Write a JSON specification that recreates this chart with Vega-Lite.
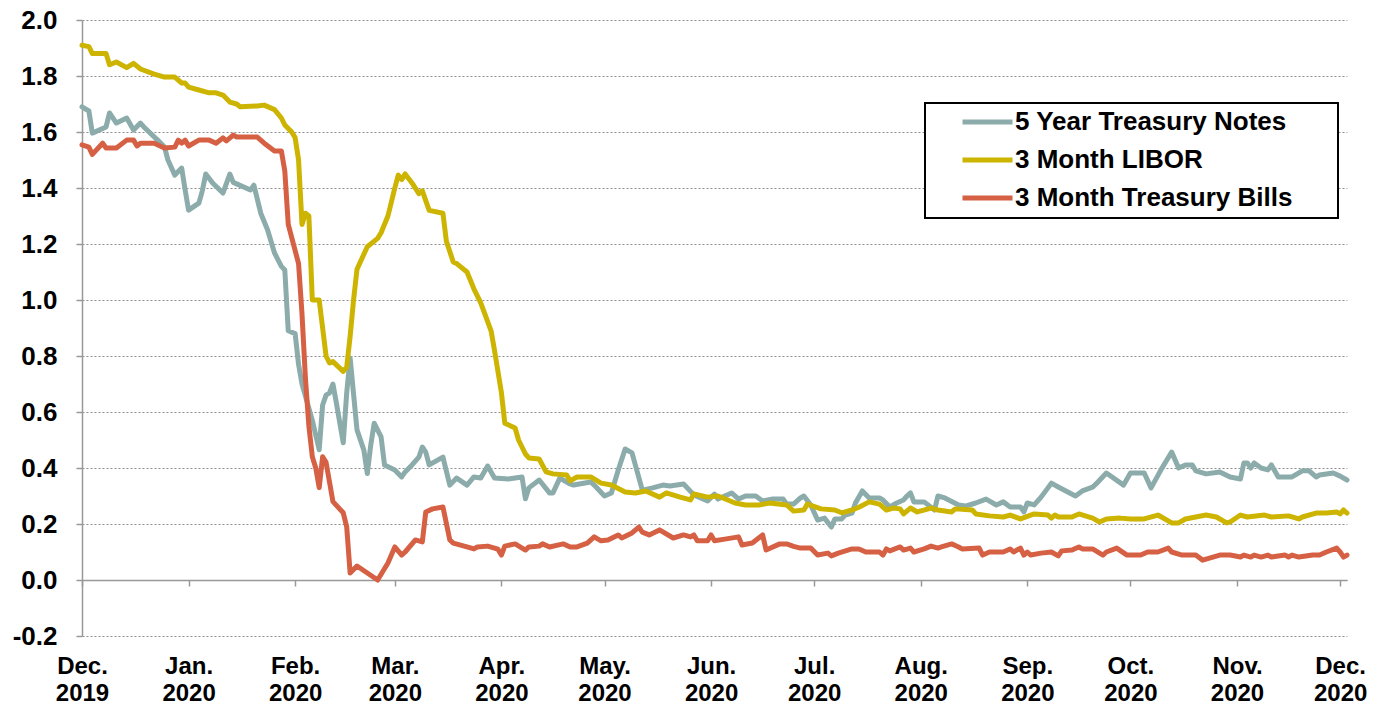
{
"$schema": "https://vega.github.io/schema/vega-lite/v6.json",
"width": 1265, "height": 616,
"autosize": {"type": "none"},
"padding": {"left": 82, "top": 20, "right": 43, "bottom": 73},
"background": "white",
"title": {"text": "(%)", "anchor": "start", "frame": "group", "dx": 451, "offset": 2, "fontSize": 24, "fontWeight": "bold", "font": "Liberation Sans", "baseline": "bottom", "color": "black"},
"config": {"view": {"stroke": null}, "font": "Liberation Sans", "legend": {"strokeWidth": 2}},
"datasets": {
"notes": [
{"d":"2019-12-01","v":1.69},{"d":"2019-12-03","v":1.675},{"d":"2019-12-04","v":1.596},{"d":"2019-12-08","v":1.618},{"d":"2019-12-09","v":1.668},{"d":"2019-12-11","v":1.632},{"d":"2019-12-14","v":1.65},{"d":"2019-12-16","v":1.607},{"d":"2019-12-18","v":1.632},{"d":"2019-12-19","v":1.618},{"d":"2019-12-23","v":1.571},{"d":"2019-12-25","v":1.546},{"d":"2019-12-26","v":1.5},{"d":"2019-12-28","v":1.446},{"d":"2019-12-30","v":1.471},{"d":"2019-12-31","v":1.393},{"d":"2020-01-01","v":1.321},{"d":"2020-01-04","v":1.346},{"d":"2020-01-05","v":1.39},{"d":"2020-01-06","v":1.45},{"d":"2020-01-08","v":1.418},{"d":"2020-01-11","v":1.382},{"d":"2020-01-13","v":1.45},{"d":"2020-01-14","v":1.42},{"d":"2020-01-19","v":1.393},{"d":"2020-01-20","v":1.41},{"d":"2020-01-22","v":1.31},{"d":"2020-01-24","v":1.25},{"d":"2020-01-26","v":1.168},{"d":"2020-01-28","v":1.12},{"d":"2020-01-29","v":1.107},{"d":"2020-01-30","v":0.89},{"d":"2020-02-01","v":0.88},{"d":"2020-02-02","v":0.77},{"d":"2020-02-03","v":0.7},{"d":"2020-02-06","v":0.57},{"d":"2020-02-08","v":0.465},{"d":"2020-02-09","v":0.625},{"d":"2020-02-10","v":0.66},{"d":"2020-02-11","v":0.668},{"d":"2020-02-12","v":0.7},{"d":"2020-02-13","v":0.632},{"d":"2020-02-15","v":0.49},{"d":"2020-02-16","v":0.668},{"d":"2020-02-17","v":0.793},{"d":"2020-02-19","v":0.536},{"d":"2020-02-21","v":0.464},{"d":"2020-02-22","v":0.38},{"d":"2020-02-23","v":0.482},{"d":"2020-02-24","v":0.56},{"d":"2020-02-26","v":0.511},{"d":"2020-02-27","v":0.411},{"d":"2020-03-01","v":0.393},{"d":"2020-03-03","v":0.368},{"d":"2020-03-04","v":0.386},{"d":"2020-03-06","v":0.411},{"d":"2020-03-08","v":0.439},{"d":"2020-03-09","v":0.475},{"d":"2020-03-10","v":0.457},{"d":"2020-03-11","v":0.411},{"d":"2020-03-15","v":0.439},{"d":"2020-03-17","v":0.339},{"d":"2020-03-19","v":0.364},{"d":"2020-03-22","v":0.339},{"d":"2020-03-24","v":0.368},{"d":"2020-03-26","v":0.364},{"d":"2020-03-28","v":0.407},{"d":"2020-03-30","v":0.364},{"d":"2020-04-03","v":0.361},{"d":"2020-04-07","v":0.368},{"d":"2020-04-08","v":0.29},{"d":"2020-04-09","v":0.329},{"d":"2020-04-12","v":0.357},{"d":"2020-04-15","v":0.311},{"d":"2020-04-16","v":0.311},{"d":"2020-04-18","v":0.364},{"d":"2020-04-21","v":0.343},{"d":"2020-04-22","v":0.339},{"d":"2020-04-27","v":0.35},{"d":"2020-04-28","v":0.339},{"d":"2020-05-01","v":0.3},{"d":"2020-05-03","v":0.311},{"d":"2020-05-05","v":0.393},{"d":"2020-05-07","v":0.468},{"d":"2020-05-09","v":0.454},{"d":"2020-05-12","v":0.321},{"d":"2020-05-15","v":0.329},{"d":"2020-05-18","v":0.339},{"d":"2020-05-20","v":0.336},{"d":"2020-05-24","v":0.343},{"d":"2020-05-27","v":0.304},{"d":"2020-05-31","v":0.282},{"d":"2020-06-02","v":0.307},{"d":"2020-06-03","v":0.289},{"d":"2020-06-07","v":0.311},{"d":"2020-06-09","v":0.289},{"d":"2020-06-11","v":0.3},{"d":"2020-06-14","v":0.3},{"d":"2020-06-16","v":0.282},{"d":"2020-06-19","v":0.289},{"d":"2020-06-22","v":0.289},{"d":"2020-06-23","v":0.271},{"d":"2020-06-25","v":0.271},{"d":"2020-06-27","v":0.293},{"d":"2020-06-28","v":0.3},{"d":"2020-06-30","v":0.268},{"d":"2020-07-02","v":0.214},{"d":"2020-07-04","v":0.221},{"d":"2020-07-06","v":0.189},{"d":"2020-07-07","v":0.218},{"d":"2020-07-09","v":0.218},{"d":"2020-07-10","v":0.232},{"d":"2020-07-12","v":0.239},{"d":"2020-07-13","v":0.275},{"d":"2020-07-15","v":0.318},{"d":"2020-07-17","v":0.293},{"d":"2020-07-20","v":0.293},{"d":"2020-07-21","v":0.286},{"d":"2020-07-23","v":0.261},{"d":"2020-07-25","v":0.275},{"d":"2020-07-27","v":0.286},{"d":"2020-07-28","v":0.3},{"d":"2020-07-29","v":0.311},{"d":"2020-07-30","v":0.279},{"d":"2020-08-02","v":0.279},{"d":"2020-08-05","v":0.25},{"d":"2020-08-06","v":0.3},{"d":"2020-08-08","v":0.293},{"d":"2020-08-12","v":0.268},{"d":"2020-08-14","v":0.264},{"d":"2020-08-17","v":0.275},{"d":"2020-08-20","v":0.289},{"d":"2020-08-23","v":0.268},{"d":"2020-08-25","v":0.279},{"d":"2020-08-27","v":0.261},{"d":"2020-08-30","v":0.261},{"d":"2020-08-31","v":0.243},{"d":"2020-09-01","v":0.275},{"d":"2020-09-03","v":0.268},{"d":"2020-09-05","v":0.296},{"d":"2020-09-07","v":0.329},{"d":"2020-09-08","v":0.346},{"d":"2020-09-10","v":0.332},{"d":"2020-09-15","v":0.3},{"d":"2020-09-17","v":0.318},{"d":"2020-09-20","v":0.332},{"d":"2020-09-21","v":0.343},{"d":"2020-09-24","v":0.382},{"d":"2020-09-29","v":0.339},{"d":"2020-10-01","v":0.382},{"d":"2020-10-05","v":0.382},{"d":"2020-10-07","v":0.329},{"d":"2020-10-10","v":0.396},{"d":"2020-10-13","v":0.457},{"d":"2020-10-15","v":0.4},{"d":"2020-10-17","v":0.411},{"d":"2020-10-19","v":0.411},{"d":"2020-10-20","v":0.39},{"d":"2020-10-23","v":0.379},{"d":"2020-10-27","v":0.386},{"d":"2020-10-30","v":0.368},{"d":"2020-11-02","v":0.361},{"d":"2020-11-03","v":0.418},{"d":"2020-11-04","v":0.418},{"d":"2020-11-05","v":0.4},{"d":"2020-11-06","v":0.418},{"d":"2020-11-08","v":0.4},{"d":"2020-11-10","v":0.393},{"d":"2020-11-11","v":0.411},{"d":"2020-11-13","v":0.368},{"d":"2020-11-17","v":0.368},{"d":"2020-11-20","v":0.39},{"d":"2020-11-22","v":0.39},{"d":"2020-11-24","v":0.368},{"d":"2020-11-25","v":0.375},{"d":"2020-11-29","v":0.382},{"d":"2020-12-01","v":0.371},{"d":"2020-12-03","v":0.357}
],
"libor": [
{"d":"2019-12-01","v":1.91},{"d":"2019-12-03","v":1.905},{"d":"2019-12-04","v":1.88},{"d":"2019-12-08","v":1.88},{"d":"2019-12-09","v":1.84},{"d":"2019-12-11","v":1.85},{"d":"2019-12-14","v":1.83},{"d":"2019-12-16","v":1.845},{"d":"2019-12-18","v":1.825},{"d":"2019-12-22","v":1.807},{"d":"2019-12-25","v":1.796},{"d":"2019-12-28","v":1.796},{"d":"2019-12-30","v":1.775},{"d":"2019-12-31","v":1.775},{"d":"2020-01-01","v":1.76},{"d":"2020-01-04","v":1.75},{"d":"2020-01-07","v":1.74},{"d":"2020-01-09","v":1.74},{"d":"2020-01-11","v":1.732},{"d":"2020-01-13","v":1.707},{"d":"2020-01-15","v":1.7},{"d":"2020-01-16","v":1.69},{"d":"2020-01-21","v":1.693},{"d":"2020-01-23","v":1.696},{"d":"2020-01-26","v":1.68},{"d":"2020-01-28","v":1.65},{"d":"2020-01-29","v":1.625},{"d":"2020-01-31","v":1.6},{"d":"2020-02-01","v":1.58},{"d":"2020-02-02","v":1.5},{"d":"2020-02-03","v":1.27},{"d":"2020-02-04","v":1.31},{"d":"2020-02-05","v":1.3},{"d":"2020-02-06","v":1.0},{"d":"2020-02-08","v":1.0},{"d":"2020-02-10","v":0.8},{"d":"2020-02-11","v":0.775},{"d":"2020-02-12","v":0.78},{"d":"2020-02-15","v":0.745},{"d":"2020-02-16","v":0.76},{"d":"2020-02-17","v":0.87},{"d":"2020-02-18","v":1.0},{"d":"2020-02-19","v":1.11},{"d":"2020-02-22","v":1.19},{"d":"2020-02-25","v":1.22},{"d":"2020-02-26","v":1.24},{"d":"2020-02-28","v":1.3},{"d":"2020-03-01","v":1.4},{"d":"2020-03-02","v":1.446},{"d":"2020-03-03","v":1.43},{"d":"2020-03-04","v":1.45},{"d":"2020-03-06","v":1.418},{"d":"2020-03-08","v":1.38},{"d":"2020-03-09","v":1.39},{"d":"2020-03-11","v":1.32},{"d":"2020-03-15","v":1.31},{"d":"2020-03-16","v":1.21},{"d":"2020-03-18","v":1.136},{"d":"2020-03-19","v":1.13},{"d":"2020-03-22","v":1.1},{"d":"2020-03-24","v":1.04},{"d":"2020-03-26","v":0.99},{"d":"2020-03-29","v":0.89},{"d":"2020-03-30","v":0.82},{"d":"2020-04-01","v":0.67},{"d":"2020-04-02","v":0.56},{"d":"2020-04-05","v":0.543},{"d":"2020-04-06","v":0.5},{"d":"2020-04-08","v":0.45},{"d":"2020-04-09","v":0.436},{"d":"2020-04-12","v":0.432},{"d":"2020-04-14","v":0.386},{"d":"2020-04-16","v":0.379},{"d":"2020-04-20","v":0.375},{"d":"2020-04-21","v":0.354},{"d":"2020-04-23","v":0.368},{"d":"2020-04-27","v":0.368},{"d":"2020-04-30","v":0.346},{"d":"2020-05-03","v":0.339},{"d":"2020-05-07","v":0.314},{"d":"2020-05-10","v":0.311},{"d":"2020-05-13","v":0.318},{"d":"2020-05-17","v":0.296},{"d":"2020-05-19","v":0.311},{"d":"2020-05-23","v":0.296},{"d":"2020-05-26","v":0.286},{"d":"2020-05-27","v":0.307},{"d":"2020-05-31","v":0.296},{"d":"2020-06-03","v":0.3},{"d":"2020-06-08","v":0.275},{"d":"2020-06-11","v":0.268},{"d":"2020-06-15","v":0.268},{"d":"2020-06-18","v":0.275},{"d":"2020-06-23","v":0.268},{"d":"2020-06-25","v":0.246},{"d":"2020-06-28","v":0.25},{"d":"2020-06-29","v":0.271},{"d":"2020-07-03","v":0.254},{"d":"2020-07-07","v":0.25},{"d":"2020-07-09","v":0.24},{"d":"2020-07-12","v":0.25},{"d":"2020-07-14","v":0.26},{"d":"2020-07-17","v":0.279},{"d":"2020-07-20","v":0.271},{"d":"2020-07-22","v":0.25},{"d":"2020-07-24","v":0.257},{"d":"2020-07-26","v":0.254},{"d":"2020-07-27","v":0.236},{"d":"2020-07-29","v":0.257},{"d":"2020-07-31","v":0.243},{"d":"2020-08-04","v":0.257},{"d":"2020-08-06","v":0.25},{"d":"2020-08-10","v":0.243},{"d":"2020-08-11","v":0.254},{"d":"2020-08-16","v":0.25},{"d":"2020-08-17","v":0.236},{"d":"2020-08-21","v":0.229},{"d":"2020-08-25","v":0.225},{"d":"2020-08-27","v":0.232},{"d":"2020-08-30","v":0.218},{"d":"2020-09-03","v":0.236},{"d":"2020-09-07","v":0.232},{"d":"2020-09-08","v":0.221},{"d":"2020-09-09","v":0.232},{"d":"2020-09-10","v":0.225},{"d":"2020-09-14","v":0.225},{"d":"2020-09-16","v":0.236},{"d":"2020-09-20","v":0.221},{"d":"2020-09-22","v":0.207},{"d":"2020-09-24","v":0.218},{"d":"2020-09-28","v":0.221},{"d":"2020-10-01","v":0.218},{"d":"2020-10-05","v":0.218},{"d":"2020-10-09","v":0.232},{"d":"2020-10-13","v":0.204},{"d":"2020-10-15","v":0.204},{"d":"2020-10-17","v":0.218},{"d":"2020-10-20","v":0.225},{"d":"2020-10-23","v":0.232},{"d":"2020-10-26","v":0.225},{"d":"2020-10-29","v":0.204},{"d":"2020-10-30","v":0.207},{"d":"2020-11-02","v":0.232},{"d":"2020-11-04","v":0.225},{"d":"2020-11-09","v":0.232},{"d":"2020-11-11","v":0.225},{"d":"2020-11-16","v":0.229},{"d":"2020-11-19","v":0.218},{"d":"2020-11-20","v":0.225},{"d":"2020-11-24","v":0.239},{"d":"2020-11-27","v":0.239},{"d":"2020-11-30","v":0.243},{"d":"2020-12-01","v":0.236},{"d":"2020-12-02","v":0.25},{"d":"2020-12-03","v":0.239}
],
"bills": [
{"d":"2019-12-01","v":1.554},{"d":"2019-12-03","v":1.546},{"d":"2019-12-04","v":1.52},{"d":"2019-12-07","v":1.56},{"d":"2019-12-08","v":1.543},{"d":"2019-12-11","v":1.543},{"d":"2019-12-14","v":1.571},{"d":"2019-12-16","v":1.571},{"d":"2019-12-17","v":1.55},{"d":"2019-12-18","v":1.56},{"d":"2019-12-22","v":1.56},{"d":"2019-12-25","v":1.543},{"d":"2019-12-28","v":1.546},{"d":"2019-12-29","v":1.571},{"d":"2019-12-30","v":1.56},{"d":"2019-12-31","v":1.571},{"d":"2020-01-01","v":1.55},{"d":"2020-01-04","v":1.571},{"d":"2020-01-07","v":1.571},{"d":"2020-01-09","v":1.56},{"d":"2020-01-11","v":1.579},{"d":"2020-01-12","v":1.568},{"d":"2020-01-14","v":1.589},{"d":"2020-01-15","v":1.582},{"d":"2020-01-21","v":1.582},{"d":"2020-01-23","v":1.56},{"d":"2020-01-26","v":1.532},{"d":"2020-01-28","v":1.532},{"d":"2020-01-29","v":1.46},{"d":"2020-01-30","v":1.27},{"d":"2020-02-02","v":1.13},{"d":"2020-02-03","v":0.95},{"d":"2020-02-04","v":0.72},{"d":"2020-02-05","v":0.55},{"d":"2020-02-06","v":0.44},{"d":"2020-02-07","v":0.4},{"d":"2020-02-08","v":0.33},{"d":"2020-02-09","v":0.44},{"d":"2020-02-10","v":0.42},{"d":"2020-02-12","v":0.28},{"d":"2020-02-15","v":0.24},{"d":"2020-02-16","v":0.19},{"d":"2020-02-17","v":0.025},{"d":"2020-02-19","v":0.05},{"d":"2020-02-22","v":0.025},{"d":"2020-02-25","v":0.0},{"d":"2020-02-28","v":0.061},{"d":"2020-03-01","v":0.118},{"d":"2020-03-03","v":0.089},{"d":"2020-03-04","v":0.1},{"d":"2020-03-07","v":0.143},{"d":"2020-03-09","v":0.136},{"d":"2020-03-10","v":0.243},{"d":"2020-03-12","v":0.254},{"d":"2020-03-15","v":0.261},{"d":"2020-03-17","v":0.143},{"d":"2020-03-18","v":0.132},{"d":"2020-03-22","v":0.118},{"d":"2020-03-24","v":0.111},{"d":"2020-03-25","v":0.118},{"d":"2020-03-28","v":0.121},{"d":"2020-03-31","v":0.11},{"d":"2020-04-01","v":0.089},{"d":"2020-04-02","v":0.121},{"d":"2020-04-05","v":0.129},{"d":"2020-04-08","v":0.107},{"d":"2020-04-09","v":0.118},{"d":"2020-04-12","v":0.121},{"d":"2020-04-13","v":0.129},{"d":"2020-04-15","v":0.118},{"d":"2020-04-19","v":0.129},{"d":"2020-04-21","v":0.118},{"d":"2020-04-23","v":0.118},{"d":"2020-04-26","v":0.132},{"d":"2020-04-28","v":0.154},{"d":"2020-04-30","v":0.14},{"d":"2020-05-02","v":0.143},{"d":"2020-05-05","v":0.161},{"d":"2020-05-06","v":0.15},{"d":"2020-05-09","v":0.168},{"d":"2020-05-11","v":0.189},{"d":"2020-05-12","v":0.171},{"d":"2020-05-14","v":0.161},{"d":"2020-05-17","v":0.179},{"d":"2020-05-21","v":0.15},{"d":"2020-05-24","v":0.161},{"d":"2020-05-26","v":0.154},{"d":"2020-05-27","v":0.161},{"d":"2020-05-28","v":0.14},{"d":"2020-05-31","v":0.14},{"d":"2020-06-01","v":0.161},{"d":"2020-06-02","v":0.14},{"d":"2020-06-05","v":0.146},{"d":"2020-06-09","v":0.154},{"d":"2020-06-10","v":0.125},{"d":"2020-06-13","v":0.132},{"d":"2020-06-16","v":0.161},{"d":"2020-06-17","v":0.107},{"d":"2020-06-21","v":0.129},{"d":"2020-06-23","v":0.129},{"d":"2020-06-25","v":0.12},{"d":"2020-06-27","v":0.114},{"d":"2020-06-30","v":0.114},{"d":"2020-07-02","v":0.089},{"d":"2020-07-05","v":0.096},{"d":"2020-07-06","v":0.086},{"d":"2020-07-08","v":0.096},{"d":"2020-07-12","v":0.111},{"d":"2020-07-14","v":0.111},{"d":"2020-07-16","v":0.1},{"d":"2020-07-20","v":0.1},{"d":"2020-07-21","v":0.089},{"d":"2020-07-22","v":0.111},{"d":"2020-07-23","v":0.104},{"d":"2020-07-26","v":0.118},{"d":"2020-07-27","v":0.107},{"d":"2020-07-29","v":0.114},{"d":"2020-07-30","v":0.1},{"d":"2020-08-02","v":0.111},{"d":"2020-08-04","v":0.121},{"d":"2020-08-06","v":0.114},{"d":"2020-08-07","v":0.118},{"d":"2020-08-10","v":0.129},{"d":"2020-08-12","v":0.118},{"d":"2020-08-13","v":0.111},{"d":"2020-08-18","v":0.114},{"d":"2020-08-19","v":0.089},{"d":"2020-08-21","v":0.1},{"d":"2020-08-25","v":0.1},{"d":"2020-08-27","v":0.111},{"d":"2020-08-28","v":0.1},{"d":"2020-08-30","v":0.114},{"d":"2020-08-31","v":0.089},{"d":"2020-09-01","v":0.1},{"d":"2020-09-02","v":0.089},{"d":"2020-09-05","v":0.096},{"d":"2020-09-08","v":0.1},{"d":"2020-09-10","v":0.086},{"d":"2020-09-11","v":0.104},{"d":"2020-09-14","v":0.107},{"d":"2020-09-16","v":0.118},{"d":"2020-09-17","v":0.111},{"d":"2020-09-20","v":0.111},{"d":"2020-09-23","v":0.089},{"d":"2020-09-24","v":0.1},{"d":"2020-09-27","v":0.114},{"d":"2020-09-30","v":0.089},{"d":"2020-10-04","v":0.089},{"d":"2020-10-06","v":0.1},{"d":"2020-10-09","v":0.1},{"d":"2020-10-12","v":0.114},{"d":"2020-10-13","v":0.1},{"d":"2020-10-16","v":0.089},{"d":"2020-10-20","v":0.089},{"d":"2020-10-22","v":0.071},{"d":"2020-10-25","v":0.082},{"d":"2020-10-27","v":0.089},{"d":"2020-10-30","v":0.089},{"d":"2020-11-02","v":0.082},{"d":"2020-11-03","v":0.089},{"d":"2020-11-05","v":0.082},{"d":"2020-11-06","v":0.089},{"d":"2020-11-08","v":0.082},{"d":"2020-11-10","v":0.089},{"d":"2020-11-11","v":0.082},{"d":"2020-11-15","v":0.089},{"d":"2020-11-16","v":0.082},{"d":"2020-11-17","v":0.089},{"d":"2020-11-19","v":0.082},{"d":"2020-11-23","v":0.089},{"d":"2020-11-25","v":0.089},{"d":"2020-11-27","v":0.1},{"d":"2020-11-30","v":0.114},{"d":"2020-12-01","v":0.1},{"d":"2020-12-02","v":0.082},{"d":"2020-12-03","v":0.089}
]
},
"encoding": {
"x": {"field": "d", "type": "temporal",
 "scale": {"type": "utc", "domain": [{"year":2019,"month":12,"date":1,"utc":true},{"year":2020,"month":12,"date":3,"utc":true}]},
 "axis": {"title": null, "grid": false, "offset": -56,
  "values": [{"year":2019,"month":12,"date":1,"utc":true},{"year":2020,"month":1,"date":1,"utc":true},{"year":2020,"month":2,"date":1,"utc":true},{"year":2020,"month":3,"date":1,"utc":true},{"year":2020,"month":4,"date":1,"utc":true},{"year":2020,"month":5,"date":1,"utc":true},{"year":2020,"month":6,"date":1,"utc":true},{"year":2020,"month":7,"date":1,"utc":true},{"year":2020,"month":8,"date":1,"utc":true},{"year":2020,"month":9,"date":1,"utc":true},{"year":2020,"month":10,"date":1,"utc":true},{"year":2020,"month":11,"date":1,"utc":true},{"year":2020,"month":12,"date":1,"utc":true}],
  "labelExpr": "[utcFormat(datum.value, '%b') + '.', utcFormat(datum.value, '%Y')]",
  "domainColor": "#999999", "domainWidth": 1.5, "tickColor": "#999999", "tickSize": 6, "tickWidth": 1.5,
  "labelFont": "Liberation Sans", "labelFontSize": 24, "labelFontWeight": "bold", "labelColor": "black",
  "labelPadding": 68, "labelLineHeight": 27, "labelFlush": false, "labelOverlap": false, "labelBound": false}},
"y": {"field": "v", "type": "quantitative",
 "scale": {"domain": [-0.2, 2.0], "nice": false, "zero": false},
 "axis": {"title": null, "values": [-0.2,0,0.2,0.4,0.6,0.8,1,1.2,1.4,1.6,1.8,2],
  "labelExpr": "replace(format(datum.value, '.1f'), '\u2212', '-')",
  "grid": true, "gridColor": "#8c8c8c", "gridDash": [2,2], "gridWidth": 1,
  "domainColor": "#999999", "domainWidth": 1.5, "tickColor": "#999999", "tickSize": 6, "tickWidth": 1.5,
  "labelFont": "Liberation Sans", "labelFontSize": 26, "labelFontWeight": "bold", "labelColor": "black", "labelPadding": 19}}
},
"layer": [
{"data": {"name": "notes"}, "mark": {"type": "line", "strokeWidth": 5, "strokeJoin": "round", "strokeCap": "round"},
 "encoding": {"color": {"datum": "5 Year Treasury Notes", "type": "nominal",
  "scale": {"domain": ["5 Year Treasury Notes", "3 Month LIBOR", "3 Month Treasury Bills"], "range": ["#8BACAA", "#CCB400", "#D66044"]},
  "legend": {"title": null, "orient": "none", "legendX": 843, "legendY": 83, "direction": "vertical",
   "symbolType": "stroke", "symbolSize": 2500, "symbolStrokeWidth": 5, "clipHeight": 24, "rowPadding": 12,
   "padding": 7, "symbolOffset": 28, "labelOffset": 0, "labelFont": "Liberation Sans", "labelFontSize": 26,
   "labelFontWeight": "bold", "labelColor": "black", "labelLimit": 0, "strokeColor": "black", "fillColor": "white",
   "labelExpr": "datum.label + '\u2800\u2800'"}}}},
{"data": {"name": "libor"}, "mark": {"type": "line", "strokeWidth": 5, "strokeJoin": "round", "strokeCap": "round"},
 "encoding": {"color": {"datum": "3 Month LIBOR", "type": "nominal"}}},
{"data": {"name": "bills"}, "mark": {"type": "line", "strokeWidth": 5, "strokeJoin": "round", "strokeCap": "round"},
 "encoding": {"color": {"datum": "3 Month Treasury Bills", "type": "nominal"}}}
]
}
